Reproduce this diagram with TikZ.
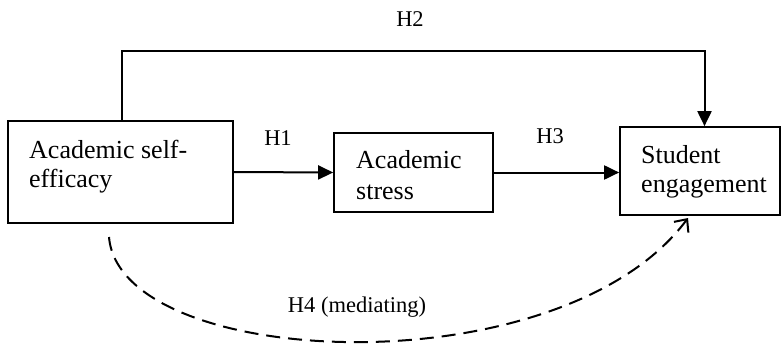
\documentclass[tikz,border=0pt]{standalone}
\usepackage{fontspec}
\setmainfont{Liberation Serif}
\usetikzlibrary{arrows.meta}
\hfuzz=100pt
\begin{document}
\begin{tikzpicture}[x=1pt,y=-1pt,
  box/.style={draw, line width=1.7pt, inner sep=0pt},
  txt/.style={anchor=base west, inner sep=0pt, font=\fontsize{26}{30}\selectfont},
  lbl/.style={anchor=base, inner sep=0pt, font=\fontsize{22.5}{27}\selectfont},
  arr/.style={line width=2pt, -{Triangle[length=15pt,width=14pt]}},
  dsh/.style={line width=2pt, dash pattern=on 14pt off 8pt, -{Straight Barb[length=10pt,width=18pt]}}]
\useasboundingbox (0,0) rectangle (782,345);
% boxes
\node[box, minimum width=225pt, minimum height=102pt] (l) at (120.5,172) {};
\node[box, minimum width=159pt, minimum height=79pt] (m) at (413.5,172.5) {};
\node[box, minimum width=160pt, minimum height=88pt] (r) at (700,171) {};
% box texts
\node[txt] (l1) at (29,158) {Academic self-};
\node[txt] (l2) at (29,187) {efficacy};
\node[txt] (m1) at (356,168) {Academic};
\node[txt] (m2) at (356,199) {stress};
\node[txt] (r1) at (641,163) {Student};
\node[txt] (r2) at (641,192) {engagement};
% labels
\node[lbl] (h2) at (410,27) {H2};
\node[lbl] (h1) at (278,145) {H1};
\node[lbl] (h3) at (550,143) {H3};
\node[lbl] (h4) at (357,312) {H4 (mediating)};
% helper coordinates
\coordinate (h2a) at (122,51);
\coordinate (h2b) at (704.5,51);
\coordinate (d0) at (109,237);
\coordinate (d1) at (688,218);
% connectors
\draw[arr] (l.east) -- (m.west);
\draw[arr] (m.east) -- (m.east -| r.west);
\draw[arr] (l.north -| h2a) -- (h2a) -- (h2b) -- (r.north -| h2b);
\draw[dsh] (d0) .. controls (120,370) and (560,390) .. (d1);
\end{tikzpicture}
\end{document}
